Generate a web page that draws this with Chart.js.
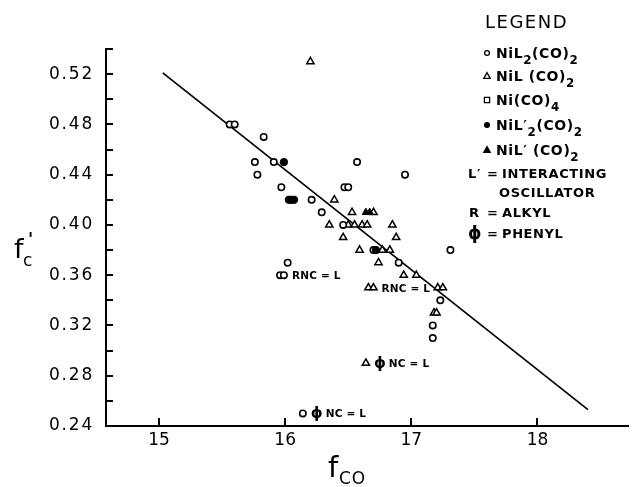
<!DOCTYPE html>
<html><head><meta charset="utf-8">
<script src="https://cdn.jsdelivr.net/npm/chart.js@4.4.1/dist/chart.umd.min.js"></script>
<style>html,body{margin:0;padding:0;background:#fff;}canvas{display:block;}</style>
</head><body>
<canvas id="c" width="634" height="487"></canvas>
<script>
// ---- data ----
const xTickValues = [15, 16, 17, 18];
const xTickLabels = ['15', '16', '17', '18'];
const yTickValues = [0.24,0.26,0.28,0.30,0.32,0.34,0.36,0.38,0.40,0.42,0.44,0.46,0.48,0.50,0.52,0.54];
const yTickLabels = ['0.24','','0.28','','0.32','','0.36','','0.40','','0.44','','0.48','','0.52',''];

// NiL2(CO)2  (open circles)
const nil2X = [15.56,15.60,15.83,15.76,15.78,15.91,15.97,16.21,16.29,16.57,16.47,16.50,16.95,16.46,16.02,15.96,15.99,16.70,16.90,17.31,17.23,17.17,17.17,16.14];
const nil2Y = [0.48, 0.48, 0.47, 0.45, 0.44, 0.45, 0.43, 0.42, 0.41, 0.45, 0.43, 0.43, 0.44, 0.40, 0.37, 0.36, 0.36, 0.38, 0.37, 0.38, 0.34, 0.32, 0.31, 0.25];
// NiL(CO)2 (open triangles)
const nilX = [16.20,16.39,16.53,16.70,16.35,16.50,16.55,16.61,16.65,16.85,16.46,16.88,16.59,16.77,16.83,16.74,16.94,17.04,16.66,16.70,17.21,17.25,17.18,17.20,16.64];
const nilY = [0.53, 0.42, 0.41, 0.41, 0.40, 0.40, 0.40, 0.40, 0.40, 0.40, 0.39, 0.39, 0.38, 0.38, 0.38, 0.37, 0.36, 0.36, 0.35, 0.35, 0.35, 0.35, 0.33, 0.33, 0.29];
// Ni(CO)4 (squares) - none visible
const nico4X = [];
const nico4Y = [];
// NiL'2(CO)2 (filled circles)
const nilp2X = [15.99,16.03,16.05,16.07,16.72];
const nilp2Y = [0.45, 0.42, 0.42, 0.42, 0.38];
// NiL'(CO)2 (filled triangles)
const nilpX = [16.64,16.67];
const nilpY = [0.41, 0.41];
// least-squares line
const fitX = [15.03, 18.40];
const fitY = [0.521, 0.253];
// annotations
const annX = [15.99, 16.70, 16.64, 16.14];
const annY = [0.36, 0.35, 0.29, 0.25];
const annText = ['RNC = L', 'RNC = L', 'NC = L', 'NC = L'];
const annPhi = [false, false, true, true];

const zip = (xs, ys) => xs.map((x, i) => ({x: x, y: ys[i]}));
const FONT = '"DejaVu Sans", sans-serif';

class WideLinear extends Chart.LinearScale {
  drawLabels(area) {
    const ctx = this.ctx;
    ctx.save();
    ctx.letterSpacing = (this.options.labelSpacing || 0) + 'px';
    super.drawLabels(area);
    ctx.restore();
  }
}
WideLinear.id = 'widelinear';
WideLinear.defaults = Chart.LinearScale.defaults;
Chart.register(WideLinear);

function rich(ctx, x, y, parts, size, weight, spacing) {
  let cx = x;
  for (const p of parts) {
    const t = p[0], mode = p[1];
    const fs = mode ? size * 0.85 : size;
    ctx.font = weight + ' ' + fs + 'px ' + FONT;
    ctx.letterSpacing = spacing + 'px';
    const dy = mode === 'sub' ? size * 0.4 : 0;
    ctx.fillText(t, cx, y + dy);
    cx += ctx.measureText(t).width;
  }
  return cx;
}

function marker(ctx, type, x, y, filled) {
  ctx.beginPath();
  if (type === 'circle') {
    ctx.arc(x, y, 2.4, 0, Math.PI * 2);
  } else if (type === 'triangle') {
    ctx.moveTo(x, y - 3.4); ctx.lineTo(x + 3.2, y + 2.4); ctx.lineTo(x - 3.2, y + 2.4); ctx.closePath();
  } else {
    ctx.rect(x - 2.6, y - 2.6, 5.2, 5.2);
  }
  ctx.lineWidth = 1.3;
  if (filled) { ctx.fillStyle = '#000'; ctx.fill(); }
  ctx.stroke();
}

const overlay = {
  id: 'overlay',
  afterDraw(chart) {
    const ctx = chart.ctx;
    const xs = chart.scales.x, ys = chart.scales.y;
    ctx.save();
    ctx.strokeStyle = '#000';
    ctx.fillStyle = '#000';
    // inward tick marks
    ctx.lineWidth = 2;
    xs.ticks.forEach(t => {
      const px = Math.round(xs.getPixelForValue(t.value));
      ctx.beginPath(); ctx.moveTo(px, xs.top); ctx.lineTo(px, xs.top - 8); ctx.stroke();
    });
    ys.ticks.forEach(t => {
      const py = Math.round(ys.getPixelForValue(t.value));
      ctx.beginPath(); ctx.moveTo(ys.right, py); ctx.lineTo(ys.right + 7, py); ctx.stroke();
    });

    ctx.textBaseline = 'alphabetic';
    ctx.textAlign = 'left';
    // axis titles
    ctx.font = '27px ' + FONT; ctx.letterSpacing = '0px';
    ctx.fillText('f', 14, 258);
    ctx.font = '17px ' + FONT;
    ctx.fillText('c', 23, 266);
    ctx.font = 'bold 17px ' + FONT;
    ctx.fillText("'", 28, 245);

    ctx.font = '29px ' + FONT;
    ctx.fillText('f', 328, 477);
    ctx.font = '17px ' + FONT;
    ctx.letterSpacing = '1px';
    ctx.fillText('CO', 339, 484);

    // legend
    ctx.font = '18px ' + FONT; ctx.letterSpacing = '1.5px';
    ctx.fillText('LEGEND', 485, 28);
    const rows = [
      {m: 'circle', f: false, y: 53, parts: [['NiL'], ['2', 'sub'], ['(CO)'], ['2', 'sub']]},
      {m: 'triangle', f: false, y: 76, parts: [['NiL (CO)'], ['2', 'sub']]},
      {m: 'rect', f: false, y: 100, parts: [['Ni(CO)'], ['4', 'sub']]},
      {m: 'circle', f: true, y: 125, parts: [['NiL′'], ['2', 'sub'], ['(CO)'], ['2', 'sub']]},
      {m: 'triangle', f: true, y: 150, parts: [['NiL′ (CO)'], ['2', 'sub']]}
    ];
    rows.forEach(r => {
      ctx.lineWidth = 1.3;
      marker(ctx, r.m, 487, r.y, r.f);
      ctx.fillStyle = '#000';
      rich(ctx, 496, r.y + 5, r.parts, 14, 'bold', 0.6);
    });
    ctx.font = 'bold 13px ' + FONT; ctx.letterSpacing = '0.6px';
    ctx.fillText('L′', 468, 178);
    ctx.fillText('=', 487, 178);
    ctx.fillText('INTERACTING', 502, 178);
    ctx.fillText('OSCILLATOR', 499, 197);
    ctx.fillText('R', 469, 217);
    ctx.fillText('=', 487, 217);
    ctx.fillText('ALKYL', 502, 217);
    ctx.font = 'bold 17px ' + FONT;
    ctx.fillText('ϕ', 468, 239);
    ctx.font = 'bold 13px ' + FONT;
    ctx.fillText('=', 487, 238);
    ctx.fillText('PHENYL', 502, 238);

    // annotations
    annText.forEach((t, i) => {
      let px = xs.getPixelForValue(annX[i]) + 8;
      const py = ys.getPixelForValue(annY[i]) + 4;
      if (annPhi[i]) {
        ctx.font = 'bold 15px ' + FONT; ctx.letterSpacing = '0px';
        ctx.fillText('ϕ', px, py + 1);
        px += ctx.measureText('ϕ').width + 3;
      }
      ctx.font = 'bold 10.5px ' + FONT; ctx.letterSpacing = '0.2px';
      ctx.fillText(t, px, py);
    });
    ctx.restore();
  }
};

const ptBase = {borderColor: '#000', showLine: false};
new Chart(document.getElementById('c'), {
  type: 'scatter',
  data: {
    datasets: [
      Object.assign({label: 'NiL2(CO)2', data: zip(nil2X, nil2Y), pointStyle: 'circle', pointRadius: 3.2, pointBorderWidth: 1.6, pointBackgroundColor: '#fff', order: 1}, ptBase),
      Object.assign({label: 'NiL(CO)2', data: zip(nilX, nilY), pointStyle: 'triangle', pointRadius: 4.2, pointBorderWidth: 1.5, pointBackgroundColor: '#fff', order: 1}, ptBase),
      Object.assign({label: 'Ni(CO)4', data: zip(nico4X, nico4Y), pointStyle: 'rect', pointRadius: 3.4, pointBorderWidth: 1.4, pointBackgroundColor: '#fff', order: 1}, ptBase),
      Object.assign({label: "NiL'2(CO)2", data: zip(nilp2X, nilp2Y), pointStyle: 'circle', pointRadius: 3.7, pointBorderWidth: 1, pointBackgroundColor: '#000', order: 0}, ptBase),
      Object.assign({label: "NiL'(CO)2", data: zip(nilpX, nilpY), pointStyle: 'triangle', pointRadius: 4.2, pointBorderWidth: 1, pointBackgroundColor: '#000', order: 0}, ptBase),
      {type: 'line', label: 'fit', data: zip(fitX, fitY), borderColor: '#000', borderWidth: 1.7, pointRadius: 0, fill: false, order: 10}
    ]
  },
  options: {
    responsive: false,
    animation: false,
    devicePixelRatio: 1,
    layout: {padding: {top: 49, right: 0, left: 0, bottom: 0}},
    plugins: {legend: {display: false}, tooltip: {enabled: false}},
    scales: {
      x: {
        type: 'linear', min: 14.58, max: 18.72,
        afterBuildTicks: s => { s.ticks = xTickValues.map(v => ({value: v})); },
        afterFit: s => { s.height = 61; },
        ticks: {
          autoSkip: false, maxRotation: 0, padding: -4, color: '#000',
          font: {family: 'DejaVu Sans', size: 17},
          callback: v => { const i = xTickValues.indexOf(v); return i >= 0 ? xTickLabels[i] : ''; }
        },
        grid: {display: false},
        border: {display: true, color: '#000', width: 2}
      },
      y: {
        type: 'widelinear', min: 0.24, max: 0.54, labelSpacing: 1.8,
        afterBuildTicks: s => { s.ticks = yTickValues.map(v => ({value: v})); },
        afterFit: s => { s.width = 106; },
        ticks: {
          autoSkip: false, padding: 4, color: '#000',
          font: {family: 'DejaVu Sans', size: 17},
          callback: v => { const i = yTickValues.findIndex(t => Math.abs(t - v) < 1e-6); return i >= 0 ? yTickLabels[i] : ''; }
        },
        grid: {display: false},
        border: {display: true, color: '#000', width: 2}
      }
    }
  },
  plugins: [overlay]
});
</script>
</body></html>
